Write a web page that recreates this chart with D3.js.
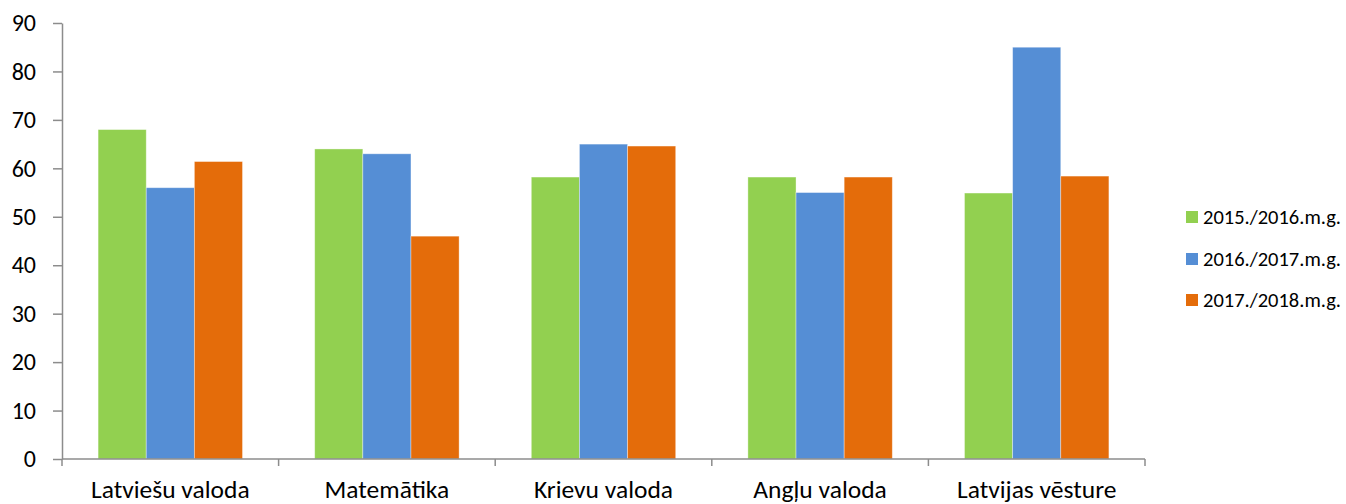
<!DOCTYPE html>
<html><head><meta charset="utf-8">
<script src="https://cdn.jsdelivr.net/npm/d3@7"></script>
<style>html,body{margin:0;padding:0;background:#fff;}svg{display:block;}</style>
</head><body>
<svg id="c" width="1346" height="504"></svg>
<script>
const categories = ["Latviešu valoda","Matemātika","Krievu valoda","Angļu valoda","Latvijas vēsture"];
const seriesNames = ["2015./2016.m.g.","2016./2017.m.g.","2017./2018.m.g."];
const s2015 = [68, 64, 58.2, 58.2, 54.9];
const s2016 = [56, 63, 65, 55, 85];
const s2017 = [61.4, 46, 64.6, 58.2, 58.4];
const yTicks = [0,10,20,30,40,50,60,70,80,90];
const colors = ["#92D050","#558ED5","#E46C0A"];

const series = [s2015, s2016, s2017];
const svg = d3.select("#c");
const L = 62, R = 1145, T = 23, B = 459;
const font = "Carlito, Lato, sans-serif";
const axisColor = "#8c8c8c";

const y = d3.scaleLinear().domain([0,90]).range([B,T]);
const x0 = d3.scaleBand().domain(categories).range([L,R]).paddingInner(0).paddingOuter(0);
// gap width 150% => bar = band/(3+1.5)
const barW = x0.bandwidth()/4.5;
const x1 = d3.scaleBand().domain(seriesNames).range([0, barW*3]);

// bars
categories.forEach((c,i)=>{
  const g = svg.append("g").attr("transform",`translate(${x0(c)+barW*0.75},0)`);
  series.forEach((s,k)=>{
    g.append("rect")
      .attr("x", x1(seriesNames[k]))
      .attr("y", y(s[i]))
      .attr("width", x1.bandwidth())
      .attr("height", B - y(s[i]))
      .attr("fill", colors[k])
      .attr("stroke","#ffffff").attr("stroke-opacity",0.45).attr("stroke-width",0.8);
  });
});

// y axis
const yAxis = d3.axisLeft(y).tickValues(yTicks).tickSize(9).tickPadding(17).tickSizeOuter(0);
const ya = svg.append("g").attr("transform",`translate(${L},0)`).call(yAxis);
ya.select(".domain").attr("stroke",axisColor).attr("stroke-width",1.5);
ya.selectAll(".tick line").attr("stroke",axisColor).attr("stroke-width",1.5);
ya.selectAll(".tick text").attr("font-family",font).attr("font-size",24).attr("fill","#000");

// x axis
const xb = svg.append("g");
xb.append("line").attr("x1",L).attr("x2",R).attr("y1",B).attr("y2",B)
  .attr("stroke",axisColor).attr("stroke-width",1.5);
const bounds = categories.map(c=>x0(c)).concat([x0.range()[1]]);
xb.selectAll("line.t").data(bounds).enter().append("line").attr("class","t")
  .attr("x1",d=>d).attr("x2",d=>d).attr("y1",B).attr("y2",B+7)
  .attr("stroke",axisColor).attr("stroke-width",1.5);
xb.selectAll("text").data(categories).enter().append("text")
  .attr("x",d=>x0(d)+x0.bandwidth()/2).attr("y",498)
  .attr("text-anchor","middle").attr("font-family",font).attr("font-size",25.5).attr("fill","#000")
  .text(d=>d);

// legend
const legY = [217, 259, 300];
const lg = svg.append("g");
seriesNames.forEach((n,k)=>{
  lg.append("rect").attr("x",1186).attr("y",legY[k]-6).attr("width",12).attr("height",12).attr("fill",colors[k]);
  lg.append("text").attr("x",1203).attr("y",legY[k]).attr("dy","0.35em")
    .attr("font-family",font).attr("font-size",20.5).attr("fill","#000").text(n);
});
</script>
</body></html>
